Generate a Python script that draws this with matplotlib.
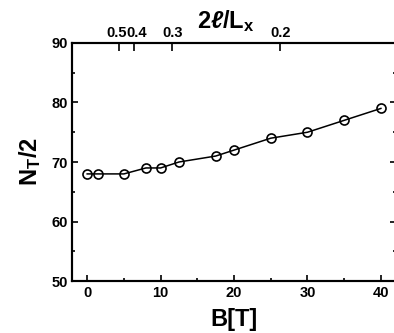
import matplotlib
matplotlib.use("Agg")
import matplotlib.pyplot as plt
import matplotlib.transforms as mtransforms
from matplotlib.ticker import MultipleLocator

plt.rcParams['font.family'] = ['Liberation Sans', 'DejaVu Sans']
plt.rcParams['font.weight'] = 'bold'
plt.rcParams['mathtext.fontset'] = 'custom'
plt.rcParams['mathtext.rm'] = 'Liberation Sans:bold'
plt.rcParams['mathtext.bf'] = 'Liberation Sans:bold'
plt.rcParams['mathtext.it'] = 'Liberation Sans:italic'

# data
B = [0, 1.5, 5, 8, 10, 12.5, 17.5, 20, 25, 30, 35, 40]
NT_half = [68, 68, 68, 69, 69, 70, 71, 72, 74, 75, 77, 79]

# top axis: 2l/Lx, placed at the matching B values
top_B = [4.35, 6.4, 11.6, 26.3]
top_labels = ['0.5', '0.4', '0.3', '0.2']

fig = plt.figure(figsize=(3.94, 3.33), dpi=100)
ax = fig.add_axes([0.184, 0.156, 0.82, 0.715])

ax.plot(B, NT_half, color='black', lw=1.1, marker='o', ms=6.5,
        mfc='none', mec='black', mew=1.2)

ax.set_xlim(-2, 42)
ax.set_ylim(50, 90)
ax.xaxis.set_major_locator(MultipleLocator(10))
ax.xaxis.set_minor_locator(MultipleLocator(5))
ax.yaxis.set_major_locator(MultipleLocator(10))
ax.yaxis.set_minor_locator(MultipleLocator(5))
ax.tick_params(which='both', direction='in', width=1.2, labelsize=10.5,
               right=True, top=False)
ax.tick_params(which='major', length=4)
ax.tick_params(which='minor', length=2.2)
for lab in ax.get_xticklabels() + ax.get_yticklabels():
    lab.set_fontweight('bold')
for s in ax.spines.values():
    s.set_linewidth(1.5)

ax.set_xlabel('B[T]', fontsize=17, fontweight='bold', labelpad=6)
ax.set_ylabel(r'$\mathbf{N_T/2}$', fontsize=17, labelpad=6)

ax2 = ax.twiny()
ax2.set_xlim(ax.get_xlim())
ax2.set_xticks(top_B)
ax2.set_xticklabels(top_labels, fontsize=10.5, fontweight='bold')
ax2.tick_params(axis='x', direction='in', length=6, width=1.2, pad=2)
for s in ax2.spines.values():
    s.set_linewidth(1.5)
# the two crowded labels sit a bit apart from their ticks (shift in pixels)
shifts = [-2.5, 2.5, 0, 0]
for lab, dx in zip(ax2.get_xticklabels(), shifts):
    lab.set_transform(lab.get_transform() +
                      mtransforms.ScaledTranslation(dx / fig.dpi, 0, fig.dpi_scale_trans))

fig.text(226 / 394, 1 - 28 / 333, r'$\mathbf{2}\ell\mathbf{/L_x}$',
         fontsize=17, ha='center', va='baseline')

fig.savefig('out.png', dpi=100)
